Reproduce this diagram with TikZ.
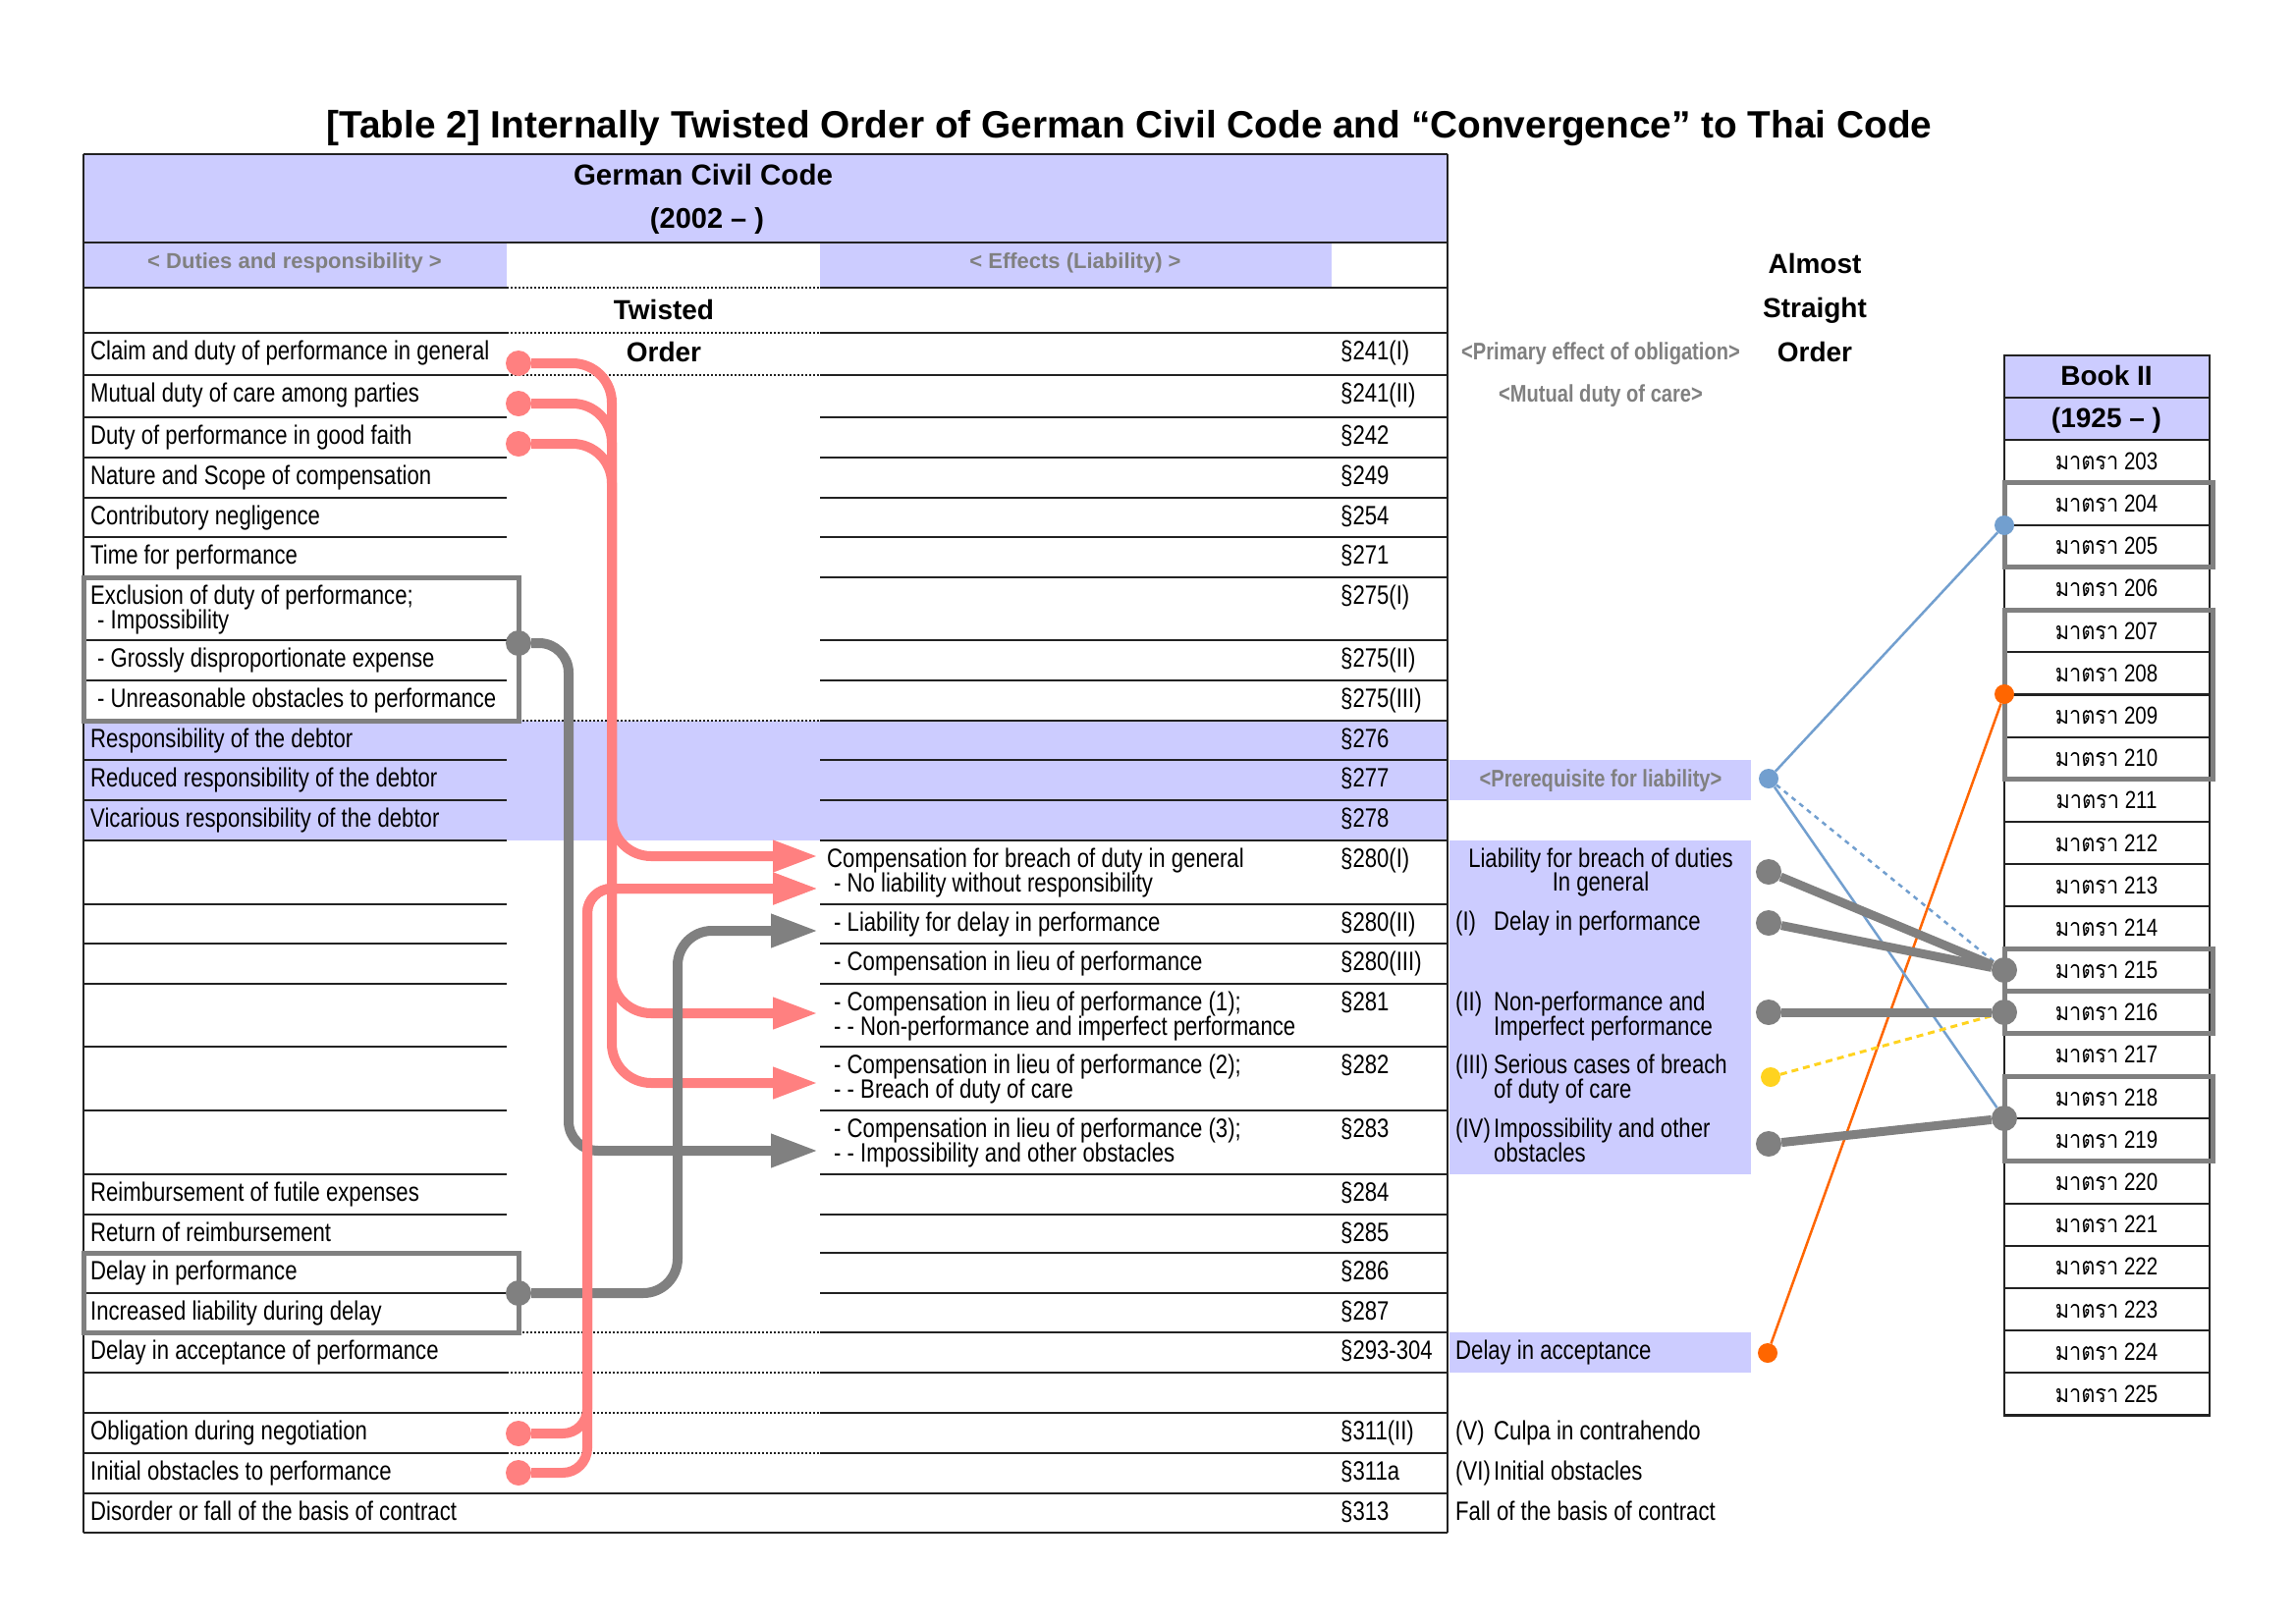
\documentclass[tikz,border=0pt]{standalone}
\usepackage{fontspec}
\setmainfont{Liberation Sans}
\newfontfamily\narrow{Liberation Sans}[FakeStretch=0.82]
\newfontfamily\thaifont{Loma}[Script=Thai,FakeStretch=0.87]
\usetikzlibrary{arrows.meta}
\definecolor{bfill}{HTML}{CCCCFF}
\definecolor{pinkc}{HTML}{FF8080}
\definecolor{grayc}{HTML}{808080}
\definecolor{orangec}{HTML}{FF6600}
\definecolor{bluec}{HTML}{729FCF}
\definecolor{yellowc}{HTML}{FFD320}
\definecolor{linec}{HTML}{222222}
\definecolor{labelgray}{HTML}{808080}
\begin{document}
\begin{tikzpicture}[x=1pt,y=-1pt,
  body/.style={font=\narrow\fontsize{27}{27}\selectfont, inner sep=0pt, anchor=base west},
  bodyc/.style={body, anchor=base},
  thaitxt/.style={font=\narrow\fontsize{25}{25}\selectfont, inner sep=0pt, anchor=base},
  hdr/.style={font=\bfseries\fontsize{28}{28}\selectfont, inner sep=0pt, anchor=base},
  glabel/.style={font=\narrow\bfseries\fontsize{24.5}{24.5}\selectfont, text=labelgray, inner sep=0pt, anchor=base},
  tlabel/.style={font=\bfseries\fontsize{22}{22}\selectfont, text=labelgray, inner sep=0pt, anchor=base},
  rowline/.style={line width=2.2pt, draw=linec},
  dotline/.style={line width=2pt, draw=linec, dash pattern=on 2pt off 2pt},
  hlbox/.style={line width=5pt, draw=grayc},
  pdot/.style={circle, fill=pinkc, minimum size=26pt, inner sep=0pt},
  gdot/.style={circle, fill=grayc, minimum size=26pt, inner sep=0pt},
  sdot/.style={circle, minimum size=20pt, inner sep=0pt},
  pinkarrow/.style={line width=10pt, draw=pinkc, -{Triangle[length=46pt,width=30pt]}},
  grayarrow/.style={line width=10pt, draw=grayc, -{Triangle[length=48pt,width=32pt]}},
  thin/.style={line width=2.5pt},
  thick/.style={line width=9pt, draw=grayc}
]
\path[use as bounding box, fill=white] (0,0) rectangle (2338,1652);

% ---------- fills ----------
\fill[bfill] (85,157) rectangle (1474,247);
\fill[bfill] (85,247) rectangle (516,293);
\fill[bfill] (835,247) rectangle (1356,293);
\fill[bfill] (85,734) rectangle (1474,856);
\fill[bfill] (1476,774) rectangle (1783,815);
\fill[bfill] (1476,856) rectangle (1783,1196);
\fill[bfill] (1476,1357) rectangle (1783,1398);
\fill[bfill] (2041,362) rectangle (2250,448.4);

% ---------- table lines ----------
\foreach \yy in {293,339,382,425,466,507,547,588,652,693,734,774,815,856,921,961,1002,1066,1131,1196,1237,1276,1317,1357,1398,1439,1480}
  \draw[rowline] (85,\yy) -- (516,\yy) (835,\yy) -- (1474,\yy);
\foreach \yy in {293,339,382,734,1357,1398,1439,1480}
  \draw[dotline] (516,\yy) -- (835,\yy);
\draw[rowline] (85,157) -- (1474,157) (85,247) -- (1474,247)
  (85,1521) -- (1474,1521) (85,1561) -- (1474,1561)
  (85,157) -- (85,1561) (1474,157) -- (1474,1561);
\draw[hlbox] (85,588) rectangle (528,734);
\draw[hlbox] (85,1276) rectangle (528,1357);

% Thai table
\foreach \k in {0,...,24}
  \draw[rowline] (2041,{362+\k*43.18}) rectangle (2250,{362+(\k+1)*43.18});
\draw[hlbox] (2041,491.5) rectangle (2253,577.9);
\draw[hlbox] (2041,621.1) rectangle (2253,793.8);
\draw[hlbox] (2041,966.5) rectangle (2253,1009.7);
\draw[hlbox] (2041,1009.7) rectangle (2253,1052.9);
\draw[hlbox] (2041,1096) rectangle (2253,1182.4);

% ---------- title and headers ----------
\node[font=\bfseries\fontsize{38.8}{40}\selectfont, inner sep=0pt, anchor=base] (title) at (1150,140)
  {[Table 2] Internally Twisted Order of German Civil Code and “Convergence” to Thai Code};
\node[hdr, font=\bfseries\fontsize{29.5}{29.5}\selectfont] (gcc) at (716,188) {German Civil Code};
\node[hdr, font=\bfseries\fontsize{29}{29}\selectfont] (gccy) at (720,232) {(2002 – )};
\node[tlabel] (duties) at (300,273) {< Duties and responsibility >};
\node[tlabel] (effects) at (1095,273) {< Effects (Liability) >};
\node[hdr] (tw1) at (676,325) {Twisted};
\node[hdr] (tw2) at (676,368) {Order};
\node[hdr] (al1) at (1848,278) {Almost};
\node[hdr] (al2) at (1848,323) {Straight};
\node[hdr] (al3) at (1848,368) {Order};
\node[hdr] (book) at (2145,392) {Book II};
\node[hdr] (booky) at (2145,435) {(1925 – )};
\foreach \k in {2,...,24} {
  \pgfmathtruncatemacro\num{201+\k}
  \node[thaitxt] (T\num) at (2145,{362+(\k+0.5)*43.18+8.5}) {{\thaifont มาตรา} \num};
}

% ---------- left column ----------
\node[body] (l1) at (92,366) {Claim and duty of performance in general};
\node[body] (l2) at (92,409) {Mutual duty of care among parties};
\node[body] (l3) at (92,452) {Duty of performance in good faith};
\node[body] (l4) at (92,493) {Nature and Scope of compensation};
\node[body] (l5) at (92,534) {Contributory negligence};
\node[body] (l6) at (92,574) {Time for performance};
\node[body] (l7) at (92,615) {Exclusion of duty of performance;};
\node[body] (l7b) at (99,640) {- Impossibility};
\node[body] (l8) at (99,679) {- Grossly disproportionate expense};
\node[body] (l9) at (99,720) {- Unreasonable obstacles to performance};
\node[body] (l10) at (92,761) {Responsibility of the debtor};
\node[body] (l11) at (92,801) {Reduced responsibility of the debtor};
\node[body] (l12) at (92,842) {Vicarious responsibility of the debtor};
\node[body] (l13) at (92,1223) {Reimbursement of futile expenses};
\node[body] (l14) at (92,1264) {Return of reimbursement};
\node[body] (l15) at (92,1303) {Delay in performance};
\node[body] (l16) at (92,1344) {Increased liability during delay};
\node[body] (l17) at (92,1384) {Delay in acceptance of performance};
\node[body] (l18) at (92,1466) {Obligation during negotiation};
\node[body] (l19) at (92,1507) {Initial obstacles to performance};
\node[body] (l20) at (92,1548) {Disorder or fall of the basis of contract};

% ---------- middle column ----------
\node[body] (m1) at (842,883) {Compensation for breach of duty in general};
\node[body] (m1b) at (849,908) {- No liability without responsibility};
\node[body] (m2) at (849,948) {- Liability for delay in performance};
\node[body] (m3) at (849,988) {- Compensation in lieu of performance};
\node[body] (m4) at (849,1029) {- Compensation in lieu of performance (1);};
\node[body] (m4b) at (849,1054) {- - Non-performance and imperfect performance};
\node[body] (m5) at (849,1093) {- Compensation in lieu of performance (2);};
\node[body] (m5b) at (849,1118) {- - Breach of duty of care};
\node[body] (m6) at (849,1158) {- Compensation in lieu of performance (3);};
\node[body] (m6b) at (849,1183) {- - Impossibility and other obstacles};

% ---------- paragraph column ----------
\foreach \t/\yy [count=\i] in {§241(I)/366, §241(II)/409, §242/452, §249/493, §254/534, §271/574,
  §275(I)/615, §275(II)/679, §275(III)/720, §276/761, §277/801, §278/842, §280(I)/883,
  §280(II)/948, §280(III)/988, §281/1029, §282/1093, §283/1158, §284/1223, §285/1264,
  §286/1303, §287/1344, §293-304/1384, §311(II)/1466, §311a/1507, §313/1548}
  \node[body] (s\i) at (1365,\yy) {\t};

% ---------- right annotations ----------
\node[glabel] (prim) at (1630,366) {<Primary effect of obligation>};
\node[glabel] (mut) at (1630,409) {<Mutual duty of care>};
\node[glabel] (pre) at (1630,801) {<Prerequisite for liability>};
\node[bodyc] (r1) at (1630,883) {Liability for breach of duties};
\node[bodyc] (r1b) at (1630,907) {In general};
\node[body] (r2n) at (1482,947) {(I)};
\node[body] (r2) at (1521,947) {Delay in performance};
\node[body] (r3n) at (1482,1029) {(II)};
\node[body] (r3) at (1521,1029) {Non-performance and};
\node[body] (r3b) at (1521,1054) {Imperfect performance};
\node[body] (r4n) at (1482,1093) {(III)};
\node[body] (r4) at (1521,1093) {Serious cases of breach};
\node[body] (r4b) at (1521,1118) {of duty of care};
\node[body] (r5n) at (1482,1158) {(IV)};
\node[body] (r5) at (1521,1158) {Impossibility and other};
\node[body] (r5b) at (1521,1183) {obstacles};
\node[body] (r6) at (1482,1384) {Delay in acceptance};
\node[body] (r7n) at (1482,1466) {(V)};
\node[body] (r7) at (1521,1466) {Culpa in contrahendo};
\node[body] (r8n) at (1482,1507) {(VI)};
\node[body] (r8) at (1521,1507) {Initial obstacles};
\node[body] (r9) at (1482,1548) {Fall of the basis of contract};

% ---------- left connectors ----------
\node[pdot] (pClaim) at (528,370) {};
\node[pdot] (pMutual) at (528,411) {};
\node[pdot] (pFaith) at (528,452) {};
\node[pdot] (pOblig) at (528,1460) {};
\node[pdot] (pInit) at (528,1500) {};
\node[gdot] (gExcl) at (528,655) {};
\node[gdot] (gDelay) at (528,1317) {};
\coordinate (aA) at (833,872);
\coordinate (aB) at (833,905);
\coordinate (aC) at (833,948);
\coordinate (aD) at (833,1032);
\coordinate (aE) at (833,1103);
\coordinate (aF) at (833,1172);

\draw[grayarrow, rounded corners=30pt] (gExcl) -- (579,655) -- (579,1172) -- (aF);
\draw[pinkarrow, rounded corners=40pt] (pClaim) -- (623,370) -- (623,1103) -- (aE);
\draw[pinkarrow, rounded corners=40pt] (pMutual) -- (623,411) -- (623,1032) -- (aD);
\draw[pinkarrow, rounded corners=40pt] (pFaith) -- (623,452) -- (623,872) -- (aA);
\draw[grayarrow, rounded corners=35pt] (gDelay) -- (690,1317) -- (690,948) -- (aC);
\draw[pinkarrow, rounded corners=25pt] (pOblig) -- (598,1460) -- (598,905) -- (aB);
\draw[pinkarrow, rounded corners=25pt] (pInit) -- (598,1500) -- (598,905) -- (aB);

% ---------- right connectors ----------
\node[gdot] (gBreach) at (1801,888) {};
\node[gdot] (gDelayP) at (1801,940) {};
\node[gdot] (gNonPerf) at (1801,1031) {};
\node[gdot] (gImposs) at (1801,1165) {};
\node[gdot] (t215) at (2041,988) {};
\node[gdot] (t216) at (2041,1031) {};
\node[gdot] (t218) at (2041,1139) {};
\node[sdot, fill=bluec] (bPre) at (1801,793) {};
\node[sdot, fill=bluec] (b204) at (2041,535) {};
\node[sdot, fill=yellowc] (ySer) at (1803,1097) {};
\node[sdot, fill=orangec] (oAcc) at (1800,1378) {};
\node[sdot, fill=orangec] (o208) at (2041,707) {};

\draw[thin, draw=orangec] (oAcc) -- (o208);
\draw[thin, draw=bluec] (bPre) -- (b204);
\draw[thin, draw=bluec] (bPre) -- (t218);
\draw[thin, draw=bluec, dash pattern=on 5pt off 5pt] (bPre) -- (t215);
\draw[line width=3pt, draw=yellowc, dash pattern=on 7pt off 5pt] (ySer) -- (t216);
\draw[thick] (gBreach) -- (t215);
\draw[thick] (gDelayP) -- (t215);
\draw[thick] (gNonPerf) -- (t216);
\draw[thick] (gImposs) -- (t218);
\end{tikzpicture}
\end{document}
